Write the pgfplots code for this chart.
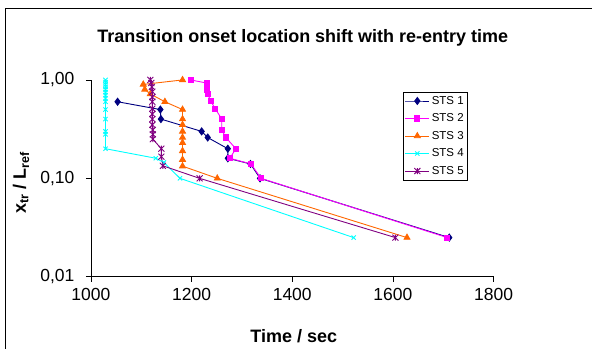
\documentclass[border=0pt]{standalone}
\usepackage{fontspec}
\setmainfont{Liberation Sans}
\usepackage{pgfplots}
\pgfplotsset{compat=1.18}
\definecolor{cNavy}{HTML}{000080}
\definecolor{cMag}{HTML}{FF00FF}
\definecolor{cOra}{HTML}{FF6600}
\definecolor{cCya}{HTML}{00FFFF}
\definecolor{cPur}{HTML}{800080}
\pgfdeclareplotmark{xbar}{%
 \pgfpathmoveto{\pgfqpoint{-\pgfplotmarksize}{-\pgfplotmarksize}}%
 \pgfpathlineto{\pgfqpoint{\pgfplotmarksize}{\pgfplotmarksize}}%
 \pgfpathmoveto{\pgfqpoint{-\pgfplotmarksize}{\pgfplotmarksize}}%
 \pgfpathlineto{\pgfqpoint{\pgfplotmarksize}{-\pgfplotmarksize}}%
 \pgfpathmoveto{\pgfqpoint{0pt}{-\pgfplotmarksize}}%
 \pgfpathlineto{\pgfqpoint{0pt}{\pgfplotmarksize}}%
 \pgfusepathqstroke}

\pgfplotstableread{
t y
1053 0.6
1138 0.5
1139 0.4
1220 0.3
1232 0.26
1272 0.2
1272 0.16
1317 0.14
1336 0.1
1712 0.025
}\stsA
\pgfplotstableread{
t y
1198 1.0
1230 0.93
1230 0.87
1230 0.8
1232 0.72
1238 0.61
1247 0.51
1260 0.4
1260 0.31
1268 0.26
1288 0.2
1276 0.16
1318 0.14
1338 0.1
1708 0.025
}\stsB
\pgfplotstableread{
t y
1182 1.0
1104 0.9
1107 0.8
1118 0.72
1147 0.6
1182 0.5
1182 0.4
1182 0.35
1182 0.3
1182 0.26
1182 0.23
1182 0.19
1182 0.155
1182 0.133
1251 0.1
1628 0.025
}\stsC
\pgfplotstableread{
t y
1029 1.0
1029 0.95
1029 0.9
1029 0.85
1029 0.8
1029 0.75
1029 0.7
1029 0.65
1029 0.6
1029 0.5
1029 0.4
1029 0.3
1029 0.28
1029 0.2
1129 0.16
1145 0.145
1177 0.1
1522 0.025
}\stsD
\pgfplotstableread{
t y
1118 1.0
1120 0.93
1121 0.85
1122 0.76
1122 0.67
1122 0.6
1122 0.51
1122 0.45
1122 0.4
1122 0.35
1123 0.31
1123 0.28
1123 0.25
1140 0.2
1140 0.166
1143 0.134
1216 0.1
1605 0.025
}\stsE

\begin{document}
\begin{tikzpicture}[x=1pt,y=1pt]
\path (0,0) rectangle (592,349);
\draw[line width=1pt, black] (6,0) -- (6,340) -- (592,340);
\begin{axis}[
  at={(91pt,72pt)}, anchor=south west,
  scale only axis, width=403pt, height=197pt,
  xmin=1000, xmax=1800, ymode=log, ymin=0.01, ymax=1,
  axis x line=bottom, axis y line=left,
  axis line style={-, line width=0.8pt, black},
  tick align=outside, major tick length=5pt,
  tick style={black, line width=0.8pt},
  yminorticks=false, xminorticks=false,
  xtick={1000,1200,1400,1600,1800},
  xticklabels={1000,1200,1400,1600,1800},
  ytick={0.01,0.1,1},
  yticklabels={{0,01},{0,10},{1,00}},
  ticklabel style={font=\fontsize{17.5}{17.5}\selectfont},
  xticklabel style={yshift=-3pt},
  yticklabel style={xshift=-8pt},
  clip=false,
  legend cell align=left,
  legend style={at={(0.774,0.939)}, anchor=north west, draw=black,
    line width=0.6pt, font=\fontsize{11.5}{11.5}\selectfont,
    inner sep=2pt, row sep=4pt},
  legend image code/.code={\draw[mark repeat=2,mark phase=2,#1] plot coordinates {(0pt,0pt) (12pt,0pt) (24pt,0pt)};},
]
\addplot[color=cNavy, line width=0.9pt, mark=diamond*, mark size=3.5pt, mark options={solid, fill=cNavy}] table[x=t,y=y] {\stsA};
\addlegendentry{STS 1}
\addplot[color=cMag, line width=0.9pt, mark=square*, mark size=2.6pt, mark options={solid, fill=cMag}] table[x=t,y=y] {\stsB};
\addlegendentry{STS 2}
\addplot[color=cOra, line width=0.9pt, mark=triangle*, mark size=3.4pt, mark options={solid, fill=cOra}] table[x=t,y=y] {\stsC};
\addlegendentry{STS 3}
\addplot[color=cCya, line width=0.9pt, mark=x, mark size=3pt, mark options={solid}] table[x=t,y=y] {\stsD};
\addlegendentry{STS 4}
\addplot[color=cPur, line width=0.9pt, mark=xbar, mark size=3pt, mark options={solid}] table[x=t,y=y] {\stsE};
\addlegendentry{STS 5}
\end{axis}
\node[font=\bfseries\fontsize{18}{18}\selectfont, anchor=base] at (303,306) {Transition onset location shift with re-entry time};
\node[font=\bfseries\fontsize{18}{18}\selectfont] at (294,13) {Time / sec};
\node[font=\bfseries\fontsize{18}{18}\selectfont, rotate=90] at (21,166) {x\textsubscript{tr} / L\textsubscript{ref}};
\end{tikzpicture}
\end{document}
